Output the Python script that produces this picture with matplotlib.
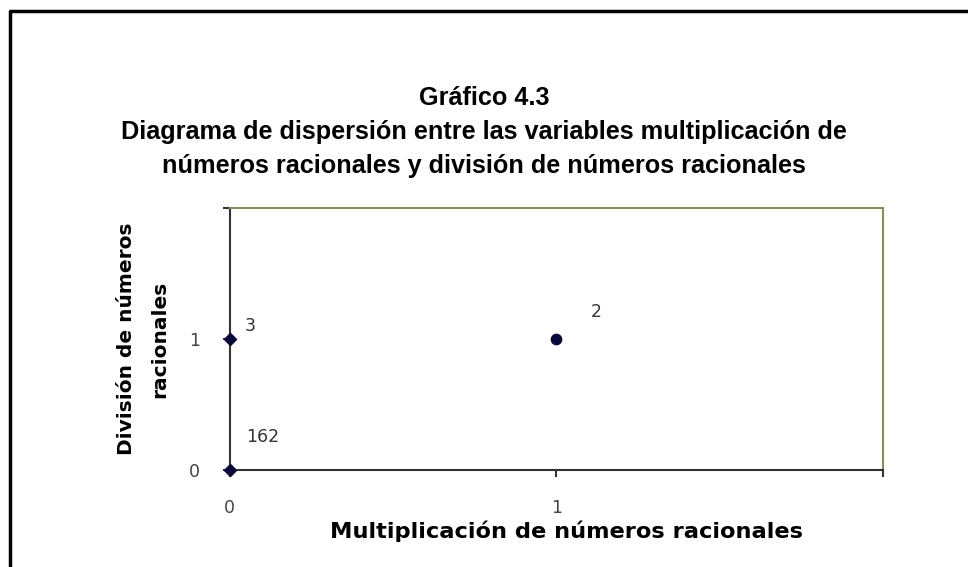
import matplotlib
matplotlib.use('Agg')
import matplotlib.pyplot as plt
from matplotlib.lines import Line2D

# data: (multiplicacion, division) with frequency labels
x_vals = [0, 0, 1]
y_vals = [0, 1, 1]
point_labels = ['162', '3', '2']
x_ticks = [0, 1, 2]
x_tick_labels = ['0', '1', '']
y_ticks = [0, 1, 2]
y_tick_labels = ['0', '1', '']

title = ('Gráfico 4.3\n'
         'Diagrama de dispersión entre las variables multiplicación de\n'
         'números racionales y división de números racionales')
x_label = 'Multiplicación de números racionales'
y_label = 'División de números\nracionales'

W, H = 968, 567
fig = plt.figure(figsize=(W / 100, H / 100), dpi=100)
ax = fig.add_axes([229.5 / W, 1 - 470 / H, (883 - 229.5) / W, (470 - 208) / H])

point_color = '#0a0a3a'
markers = ['D', 'D', 'o']
for xv, yv, mk in zip(x_vals, y_vals, markers):
    ax.scatter([xv], [yv], marker=mk, s=38 if mk == 'D' else 55,
               color=point_color, zorder=5, clip_on=False)

offsets = [(12, 17), (11, 3), (25, 13)]
for xv, yv, lab, off in zip(x_vals, y_vals, point_labels, offsets):
    ax.annotate(lab, (xv, yv), xytext=off, textcoords='offset points',
                fontsize=12.5, color='#333333', family='DejaVu Sans',
                ha='left', va='bottom')

ax.set_xlim(0, 2)
ax.set_ylim(0, 2)
ax.set_xticks(x_ticks)
ax.set_xticklabels(x_tick_labels)
ax.set_yticks(y_ticks)
ax.set_yticklabels(y_tick_labels)
ax.tick_params(direction='out', length=5, width=1.5, color='#333333',
               labelsize=12.5, labelcolor='#444444')
ax.tick_params(axis='x', pad=16)
ax.tick_params(axis='y', pad=16)

for side in ['left', 'bottom']:
    ax.spines[side].set_color('#333333')
    ax.spines[side].set_linewidth(1.5)
for side in ['top', 'right']:
    ax.spines[side].set_color('#8a8a5c')
    ax.spines[side].set_linewidth(1.5)

ax.set_xlabel(x_label, fontsize=16.2, fontweight='bold', family='DejaVu Sans',
              labelpad=0)
ax.xaxis.set_label_coords(0.515, -0.235)
ax.xaxis.label.set_va('center')
ax.set_ylabel(y_label, fontsize=14.5, fontweight='bold', family='DejaVu Sans',
              linespacing=2.0)
ax.yaxis.set_label_coords(-0.132, 0.5)
ax.yaxis.label.set_va('center')

fig.text(0.5, 1 - 132 / H, title, ha='center', va='center', fontsize=18.2,
         fontweight='bold', family='Liberation Sans', linespacing=1.55)

# outer frame (left and top edges only)
bx = 9.5 / W
by = 1 - 11 / H
fig.add_artist(Line2D([bx, bx, 1], [0, by, by], color='black', lw=2.5,
                      transform=fig.transFigure))

fig.savefig('out.png', dpi=100)
